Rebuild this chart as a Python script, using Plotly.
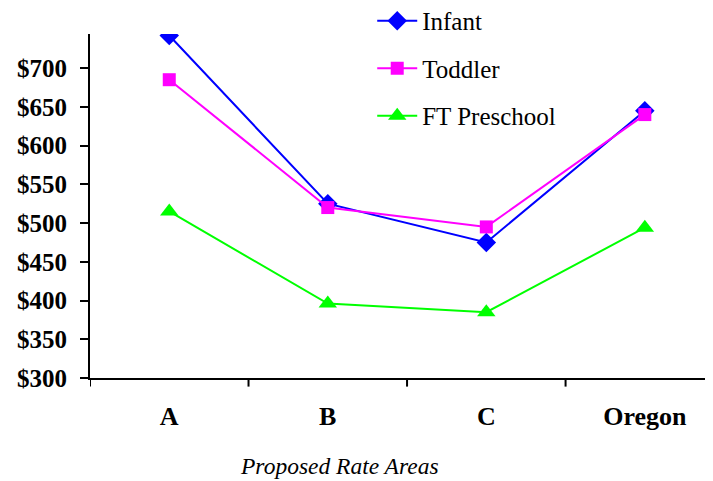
import plotly.graph_objects as go

categories = ["A", "B", "C", "Oregon"]
infant = [742, 525, 475, 645]
toddler = [685, 520, 495, 640]
preschool = [515, 396, 385, 494]
y_ticks = [300, 350, 400, 450, 500, 550, 600, 650, 700]
y_tick_labels = ["$%d" % v for v in y_ticks]

fig = go.Figure()
series = [
    ("Infant", infant, "#0000FF", "diamond", 15),
    ("Toddler", toddler, "#FF00FF", "square", 13),
    ("FT Preschool", preschool, "#00FF00", "triangle-up", 16),
]
for i, (name, vals, color, sym, sz) in enumerate(series):
    fig.add_trace(go.Scatter(
        x=list(range(len(categories))), y=vals, name=name, mode="lines+markers",
        legendgroup="g%d" % i,
        line=dict(color=color, width=2),
        marker=dict(symbol=sym, size=sz, color=color),
    ))

fig.update_layout(
    width=713, height=481,
    margin=dict(l=82, r=8, t=26, b=111, autoexpand=False),
    paper_bgcolor="white", plot_bgcolor="white",
    showlegend=True,
    legend=dict(x=0.453, y=1.105, xanchor="left", yanchor="top",
                font=dict(family="Liberation Serif", size=25, color="black"),
                bgcolor="rgba(0,0,0,0)", tracegroupgap=12, itemwidth=40),
    xaxis=dict(
        range=[-0.5, 3.43], tickmode="array",
        tickvals=[0, 1, 2, 3], ticktext=categories,
        showgrid=False, zeroline=False, automargin=False,
        showline=True, linecolor="black", linewidth=2,
        ticks="", ticklabelstandoff=14,
        tickfont=dict(family="Liberation Serif", size=26, color="black", weight="bold"),
    ),
    yaxis=dict(
        range=[300, 744], tickmode="array", tickvals=y_ticks, ticktext=y_tick_labels,
        showgrid=False, zeroline=False, automargin=False,
        showline=True, linecolor="black", linewidth=2,
        ticks="outside", ticklen=8, tickwidth=2, tickcolor="black",
        ticklabelstandoff=8,
        tickfont=dict(family="Liberation Serif", size=25, color="black", weight="bold"),
    ),
    annotations=[dict(
        text="<i>Proposed Rate Areas</i>", xref="paper", yref="paper",
        x=0.401, y=-0.256, xanchor="center", yanchor="middle", showarrow=False,
        font=dict(family="Liberation Serif", size=23.5, color="black"),
    )],
)

# category divider ticks on x axis
for b in [-0.5, 0.5, 1.5, 2.5]:
    fig.add_shape(type="line", xref="x", yref="paper", x0=b, x1=b, y0=0, y1=-0.025,
                  line=dict(color="black", width=2))

fig.write_html("out.html")
